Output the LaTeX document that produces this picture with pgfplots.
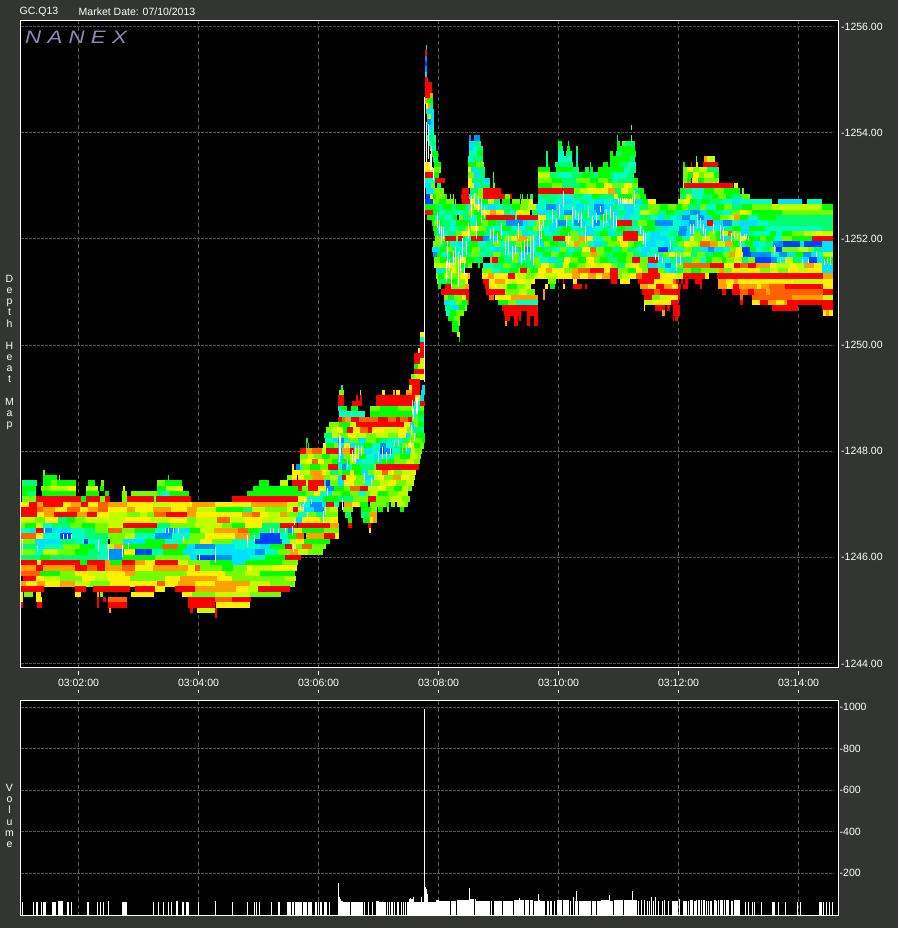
\documentclass[border=0pt]{standalone}
\usepackage{fontspec}
\setmainfont{Liberation Sans}
\usepackage{pgfplots}
\usepackage{pgfplotstable}
\pgfplotsset{compat=1.18}
\definecolor{bg}{HTML}{333533}
\definecolor{gridc}{HTML}{555555}
\definecolor{nanexc}{HTML}{8A8CB4}
\pgfplotsset{colormap={depth}{rgb255=(255,0,0) rgb255=(255,96,0) rgb255=(255,160,0) rgb255=(255,240,0) rgb255=(192,255,0) rgb255=(112,255,0) rgb255=(0,255,0) rgb255=(0,255,112) rgb255=(0,255,192) rgb255=(0,224,255) rgb255=(0,144,255) rgb255=(0,64,255)}}
\pgfdeclareplotmark{heatrun}{\pgfpathrectangle{\pgfpoint{0pt}{-2.7pt}}{\pgfpoint{\runw pt}{5.4pt}}\pgfusepathqfill}
\pgfdeclareplotmark{streak}{\pgfpathrectangle{\pgfpoint{0pt}{0pt}}{\pgfpoint{1pt}{\runh pt}}\pgfusepathqfill}
\pgfdeclareplotmark{volbar}{\pgfpathrectangle{\pgfpoint{0pt}{0pt}}{\pgfpoint{\runw pt}{-\runh pt}}\pgfusepathqfill}
\pgfplotstableread{
x y w c
43 1247.6 2 5
43 1247.5 14 6
59 1247.5 1 5
168 1247.5 1 6
287 1247.5 5 5
292 1247.5 5 3
22 1247.4 1 5
23 1247.4 14 7
43 1247.4 8 6
51 1247.4 6 5
57 1247.4 19 6
88 1247.4 7 6
101 1247.4 3 5
157 1247.4 8 5
165 1247.4 17 6
259 1247.4 10 6
280 1247.4 8 4
292 1247.4 6 0
22 1247.3 14 6
41 1247.3 9 5
50 1247.3 18 4
68 1247.3 8 3
86 1247.3 12 4
100 1247.3 4 6
123 1247.3 2 3
157 1247.3 9 6
166 1247.3 10 4
176 1247.3 7 3
253 1247.3 45 6
22 1247.2 5 6
27 1247.2 9 7
42 1247.2 34 6
86 1247.2 13 6
105 1247.2 4 6
122 1247.2 5 5
131 1247.2 26 5
157 1247.2 5 7
162 1247.2 8 8
170 1247.2 19 6
247 1247.2 51 6
22 1247.1 14 5
36 1247.1 45 0
81 1247.1 5 6
86 1247.1 14 0
100 1247.1 5 5
105 1247.1 5 0
122 1247.1 5 5
127 1247.1 27 0
154 1247.1 2 5
156 1247.1 35 0
232 1247.1 66 0
21 1247.0 8 3
29 1247.0 8 0
37 1247.0 6 2
43 1247.0 20 0
63 1247.0 8 3
71 1247.0 10 2
81 1247.0 7 0
88 1247.0 10 3
98 1247.0 10 1
108 1247.0 19 2
127 1247.0 26 3
153 1247.0 17 4
170 1247.0 22 3
192 1247.0 8 2
200 1247.0 15 2
215 1247.0 17 3
232 1247.0 19 3
251 1247.0 17 2
268 1247.0 19 2
287 1247.0 11 4
21 1246.9 16 0
37 1246.9 6 1
43 1246.9 12 2
55 1246.9 12 3
67 1246.9 13 1
80 1246.9 8 3
88 1246.9 10 2
98 1246.9 10 1
108 1246.9 19 3
127 1246.9 8 2
135 1246.9 18 3
153 1246.9 18 2
171 1246.9 16 3
187 1246.9 10 2
197 1246.9 19 4
216 1246.9 27 6
243 1246.9 9 7
252 1246.9 13 4
265 1246.9 22 5
287 1246.9 6 3
293 1246.9 5 0
21 1246.8 16 0
37 1246.8 7 3
44 1246.8 10 2
54 1246.8 23 0
77 1246.8 10 2
87 1246.8 10 0
97 1246.8 12 3
109 1246.8 18 4
127 1246.8 13 5
140 1246.8 7 4
147 1246.8 7 5
154 1246.8 12 1
166 1246.8 21 0
187 1246.8 9 2
196 1246.8 20 3
216 1246.8 16 3
232 1246.8 10 3
242 1246.8 10 2
252 1246.8 8 1
260 1246.8 8 3
268 1246.8 12 4
280 1246.8 7 2
287 1246.8 11 5
21 1246.7 14 4
35 1246.7 10 5
45 1246.7 13 3
58 1246.7 9 7
67 1246.7 8 6
75 1246.7 10 5
85 1246.7 23 4
108 1246.7 17 4
125 1246.7 25 3
150 1246.7 20 4
170 1246.7 17 3
187 1246.7 9 5
196 1246.7 21 4
217 1246.7 13 1
230 1246.7 15 4
245 1246.7 17 3
262 1246.7 18 4
280 1246.7 18 4
21 1246.6 4 5
25 1246.6 11 6
36 1246.6 7 4
43 1246.6 9 8
52 1246.6 18 7
70 1246.6 12 5
82 1246.6 13 6
95 1246.6 13 5
108 1246.6 15 4
123 1246.6 34 0
157 1246.6 13 7
170 1246.6 25 5
195 1246.6 27 4
222 1246.6 10 5
232 1246.6 13 6
245 1246.6 17 3
262 1246.6 18 7
280 1246.6 17 0
21 1246.5 9 8
30 1246.5 6 9
36 1246.5 7 0
43 1246.5 9 10
52 1246.5 18 9
70 1246.5 15 8
85 1246.5 10 7
95 1246.5 13 5
108 1246.5 14 1
122 1246.5 13 5
135 1246.5 20 6
155 1246.5 10 8
165 1246.5 10 10
175 1246.5 15 9
190 1246.5 10 6
200 1246.5 14 4
214 1246.5 24 2
238 1246.5 10 1
248 1246.5 10 6
258 1246.5 30 7
288 1246.5 4 10
292 1246.5 6 9
21 1246.4 15 1
36 1246.4 7 3
43 1246.4 17 8
60 1246.4 12 11
72 1246.4 13 8
85 1246.4 23 7
108 1246.4 17 5
125 1246.4 10 4
135 1246.4 20 8
155 1246.4 17 10
172 1246.4 18 8
190 1246.4 15 5
205 1246.4 30 3
235 1246.4 15 2
250 1246.4 10 7
260 1246.4 20 11
280 1246.4 8 8
288 1246.4 10 6
21 1246.3 14 5
35 1246.3 25 9
60 1246.3 15 7
75 1246.3 9 8
84 1246.3 4 11
88 1246.3 12 8
100 1246.3 8 7
110 1246.3 13 5
123 1246.3 22 9
145 1246.3 20 6
165 1246.3 17 8
182 1246.3 18 5
200 1246.3 12 3
212 1246.3 20 5
232 1246.3 23 8
255 1246.3 27 11
282 1246.3 8 8
290 1246.3 8 4
21 1246.2 17 7
38 1246.2 7 9
45 1246.2 18 8
63 1246.2 17 5
80 1246.2 15 6
95 1246.2 12 8
107 1246.2 7 4
114 1246.2 10 2
124 1246.2 38 6
162 1246.2 16 1
178 1246.2 9 6
187 1246.2 8 9
195 1246.2 20 10
215 1246.2 20 9
235 1246.2 25 8
260 1246.2 10 9
270 1246.2 15 6
285 1246.2 7 0
292 1246.2 6 3
21 1246.1 14 5
35 1246.1 8 8
43 1246.1 15 4
58 1246.1 17 5
75 1246.1 13 6
88 1246.1 12 7
100 1246.1 8 8
108 1246.1 16 10
124 1246.1 11 3
135 1246.1 17 11
152 1246.1 11 8
163 1246.1 20 6
183 1246.1 12 9
195 1246.1 18 8
213 1246.1 27 9
240 1246.1 15 9
255 1246.1 10 10
265 1246.1 13 8
278 1246.1 12 5
290 1246.1 8 2
21 1246.0 19 7
40 1246.0 10 6
50 1246.0 47 7
97 1246.0 11 8
108 1246.0 14 10
122 1246.0 33 6
155 1246.0 35 5
190 1246.0 7 9
197 1246.0 18 11
215 1246.0 17 10
232 1246.0 18 9
250 1246.0 15 8
265 1246.0 20 6
285 1246.0 16 0
21 1245.9 16 0
37 1245.9 4 3
41 1245.9 39 0
80 1245.9 7 6
87 1245.9 18 0
105 1245.9 5 2
110 1245.9 12 6
122 1245.9 13 0
135 1245.9 10 2
145 1245.9 10 3
155 1245.9 23 0
178 1245.9 10 4
188 1245.9 22 5
210 1245.9 22 6
232 1245.9 13 9
245 1245.9 37 6
282 1245.9 16 5
21 1245.8 15 2
36 1245.8 7 0
43 1245.8 32 2
75 1245.8 12 0
87 1245.8 10 1
97 1245.8 8 0
105 1245.8 17 2
122 1245.8 13 1
135 1245.8 18 3
153 1245.8 35 2
188 1245.8 7 3
195 1245.8 5 1
200 1245.8 22 5
222 1245.8 11 6
233 1245.8 14 5
247 1245.8 5 3
252 1245.8 20 4
272 1245.8 25 3
21 1245.7 19 1
40 1245.7 20 6
60 1245.7 15 5
75 1245.7 13 3
88 1245.7 20 4
108 1245.7 17 3
125 1245.7 10 2
135 1245.7 52 5
187 1245.7 38 3
225 1245.7 20 5
245 1245.7 15 4
260 1245.7 35 6
23 1245.6 13 0
36 1245.6 8 3
44 1245.6 16 4
60 1245.6 22 5
82 1245.6 13 3
95 1245.6 13 4
108 1245.6 22 3
130 1245.6 35 5
165 1245.6 15 3
180 1245.6 37 2
217 1245.6 15 3
232 1245.6 53 5
285 1245.6 11 4
21 1245.5 5 2
26 1245.5 11 3
37 1245.5 8 2
45 1245.5 15 3
60 1245.5 15 2
75 1245.5 15 4
90 1245.5 20 5
110 1245.5 47 3
157 1245.5 8 1
165 1245.5 13 3
178 1245.5 17 2
195 1245.5 20 3
215 1245.5 35 2
250 1245.5 20 4
270 1245.5 25 5
21 1245.4 23 0
75 1245.4 11 0
93 1245.4 37 0
135 1245.4 20 0
155 1245.4 10 3
175 1245.4 20 0
195 1245.4 41 2
236 1245.4 12 3
248 1245.4 10 4
258 1245.4 32 0
21 1245.3 2 3
24 1245.3 9 5
36 1245.3 5 3
75 1245.3 6 3
97 1245.3 2 2
100 1245.3 3 5
131 1245.3 23 3
182 1245.3 10 3
192 1245.3 23 5
215 1245.3 35 4
250 1245.3 31 5
21 1245.2 2 3
36 1245.2 6 3
97 1245.2 2 0
103 1245.2 3 0
108 1245.2 19 1
188 1245.2 27 0
215 1245.2 17 1
232 1245.2 19 0
21 1245.1 2 0
37 1245.1 5 0
97 1245.1 2 0
108 1245.1 19 0
188 1245.1 27 0
216 1245.1 34 3
109 1245.0 2 2
190 1245.0 3 0
197 1245.0 2 3
199 1245.0 16 4
215 1245.0 2 0
215 1244.9 2 0
420 1250.2 4 3
420 1250.1 4 8
420 1250.0 4 0
418 1249.9 2 3
420 1249.9 4 0
414 1249.8 10 0
414 1249.7 6 0
420 1249.7 4 4
414 1249.6 4 6
418 1249.6 3 4
421 1249.6 3 3
414 1249.5 10 0
411 1249.4 4 5
415 1249.4 5 4
420 1249.4 4 3
409 1249.3 11 0
341 1249.2 2 7
409 1249.2 3 4
412 1249.2 8 0
422 1249.2 3 9
339 1249.1 5 5
360 1249.1 1 4
382 1249.1 3 3
393 1249.1 2 2
396 1249.1 4 3
406 1249.1 6 2
412 1249.1 8 0
421 1249.1 4 9
338 1249.0 6 0
356 1249.0 2 0
360 1249.0 2 0
376 1249.0 39 0
415 1249.0 5 3
420 1249.0 4 9
338 1248.9 6 0
352 1248.9 10 0
376 1248.9 38 0
414 1248.9 6 8
420 1248.9 5 0
338 1248.8 3 9
341 1248.8 6 6
351 1248.8 7 6
370 1248.8 10 5
380 1248.8 18 6
398 1248.8 16 5
414 1248.8 6 8
420 1248.8 4 5
339 1248.7 4 8
343 1248.7 22 8
370 1248.7 8 6
378 1248.7 34 6
412 1248.7 6 8
418 1248.7 6 6
338 1248.6 4 0
342 1248.6 3 1
345 1248.6 6 2
351 1248.6 8 0
359 1248.6 11 1
370 1248.6 8 1
378 1248.6 10 0
388 1248.6 8 1
396 1248.6 4 0
400 1248.6 8 1
408 1248.6 4 0
412 1248.6 6 5
418 1248.6 6 7
329 1248.5 10 5
339 1248.5 11 6
350 1248.5 6 4
356 1248.5 14 0
370 1248.5 12 0
382 1248.5 22 0
404 1248.5 6 3
410 1248.5 4 9
414 1248.5 4 5
418 1248.5 6 6
326 1248.4 5 5
331 1248.4 6 4
337 1248.4 6 3
343 1248.4 4 6
347 1248.4 6 0
353 1248.4 7 3
360 1248.4 8 1
368 1248.4 4 0
372 1248.4 12 3
384 1248.4 15 4
399 1248.4 8 3
407 1248.4 6 5
413 1248.4 3 9
416 1248.4 8 7
324 1248.3 8 7
332 1248.3 6 4
338 1248.3 10 5
348 1248.3 8 3
356 1248.3 10 4
366 1248.3 10 5
376 1248.3 12 4
388 1248.3 10 5
398 1248.3 8 3
406 1248.3 4 9
410 1248.3 6 5
416 1248.3 9 6
306 1248.2 2 6
325 1248.2 8 8
333 1248.2 5 9
338 1248.2 6 10
344 1248.2 6 8
350 1248.2 8 5
358 1248.2 8 9
366 1248.2 10 5
376 1248.2 4 6
380 1248.2 8 7
388 1248.2 14 8
402 1248.2 6 7
408 1248.2 8 5
416 1248.2 6 5
422 1248.2 3 6
306 1248.1 1 6
308 1248.1 1 6
323 1248.1 3 3
326 1248.1 8 6
334 1248.1 4 5
338 1248.1 6 9
344 1248.1 6 3
350 1248.1 6 9
356 1248.1 8 7
364 1248.1 8 6
372 1248.1 8 8
380 1248.1 6 10
386 1248.1 8 8
394 1248.1 8 7
402 1248.1 6 5
408 1248.1 6 3
414 1248.1 6 6
420 1248.1 4 5
300 1248.0 6 0
306 1248.0 6 2
312 1248.0 10 1
322 1248.0 4 4
326 1248.0 12 0
338 1248.0 4 10
342 1248.0 8 2
350 1248.0 4 0
354 1248.0 10 5
364 1248.0 8 9
372 1248.0 8 8
380 1248.0 4 11
384 1248.0 8 10
392 1248.0 8 8
400 1248.0 6 6
406 1248.0 5 9
411 1248.0 4 4
415 1248.0 5 5
420 1248.0 2 5
300 1247.9 8 5
308 1247.9 6 4
314 1247.9 8 5
322 1247.9 8 6
330 1247.9 8 5
338 1247.9 6 9
344 1247.9 6 5
350 1247.9 8 4
358 1247.9 8 6
366 1247.9 8 8
374 1247.9 10 9
384 1247.9 10 8
394 1247.9 6 5
400 1247.9 10 6
410 1247.9 8 4
418 1247.9 3 5
300 1247.8 6 4
306 1247.8 6 3
312 1247.8 6 1
318 1247.8 6 3
324 1247.8 8 5
332 1247.8 6 6
338 1247.8 4 9
342 1247.8 8 6
350 1247.8 6 4
356 1247.8 6 9
362 1247.8 12 8
374 1247.8 8 7
382 1247.8 12 6
394 1247.8 12 5
406 1247.8 8 4
414 1247.8 6 5
292 1247.7 2 3
296 1247.7 4 10
300 1247.7 2 8
302 1247.7 8 5
310 1247.7 10 6
320 1247.7 8 5
328 1247.7 10 0
338 1247.7 4 8
342 1247.7 4 10
346 1247.7 6 8
352 1247.7 8 6
360 1247.7 14 7
374 1247.7 2 5
376 1247.7 43 0
292 1247.6 8 3
300 1247.6 10 4
310 1247.6 12 2
322 1247.6 4 3
326 1247.6 4 4
330 1247.6 8 7
338 1247.6 4 5
342 1247.6 8 6
350 1247.6 4 3
354 1247.6 8 6
362 1247.6 6 9
368 1247.6 6 5
374 1247.6 8 4
382 1247.6 6 1
388 1247.6 6 3
394 1247.6 8 5
402 1247.6 10 4
412 1247.6 4 3
298 1247.5 6 3
304 1247.5 8 5
312 1247.5 12 2
324 1247.5 6 5
330 1247.5 8 4
338 1247.5 4 9
342 1247.5 4 0
346 1247.5 10 3
356 1247.5 8 5
364 1247.5 10 9
374 1247.5 4 4
378 1247.5 6 3
384 1247.5 9 5
393 1247.5 8 2
401 1247.5 8 3
409 1247.5 6 4
298 1247.4 8 0
306 1247.4 2 4
308 1247.4 16 0
324 1247.4 2 9
326 1247.4 4 11
330 1247.4 8 5
338 1247.4 6 9
344 1247.4 10 3
354 1247.4 10 5
364 1247.4 8 8
372 1247.4 8 5
380 1247.4 8 4
388 1247.4 8 3
396 1247.4 10 5
406 1247.4 8 4
298 1247.3 4 0
302 1247.3 6 5
308 1247.3 10 0
318 1247.3 8 3
326 1247.3 8 10
334 1247.3 4 6
338 1247.3 6 6
344 1247.3 6 5
350 1247.3 10 1
360 1247.3 8 0
368 1247.3 10 4
378 1247.3 8 3
386 1247.3 8 5
394 1247.3 8 6
402 1247.3 6 4
408 1247.3 4 5
298 1247.2 8 6
306 1247.2 8 5
314 1247.2 6 3
320 1247.2 8 8
328 1247.2 4 9
332 1247.2 10 5
342 1247.2 8 6
350 1247.2 8 5
358 1247.2 8 8
366 1247.2 4 5
370 1247.2 8 4
378 1247.2 10 6
388 1247.2 10 5
398 1247.2 10 4
298 1247.1 9 3
307 1247.1 16 8
323 1247.1 15 6
338 1247.1 15 7
353 1247.1 15 5
368 1247.1 8 0
376 1247.1 14 5
390 1247.1 12 4
402 1247.1 8 5
298 1247.0 2 5
300 1247.0 10 8
310 1247.0 12 10
322 1247.0 4 9
326 1247.0 8 0
334 1247.0 5 8
344 1247.0 8 2
352 1247.0 8 3
360 1247.0 8 6
370 1247.0 8 5
378 1247.0 8 5
386 1247.0 3 6
391 1247.0 4 5
397 1247.0 8 4
405 1247.0 3 5
298 1246.9 6 4
304 1246.9 10 9
314 1246.9 10 10
324 1246.9 6 5
330 1246.9 8 4
343 1246.9 10 5
361 1246.9 10 6
371 1246.9 6 5
378 1246.9 5 6
387 1246.9 2 5
400 1246.9 4 6
298 1246.8 8 8
306 1246.8 10 5
316 1246.8 10 7
326 1246.8 12 5
345 1246.8 6 7
361 1246.8 8 7
369 1246.8 8 2
296 1246.7 6 9
302 1246.7 18 3
320 1246.7 4 5
324 1246.7 6 4
330 1246.7 8 3
348 1246.7 4 6
363 1246.7 7 6
370 1246.7 3 3
373 1246.7 4 2
298 1246.6 32 0
330 1246.6 9 2
348 1246.6 4 0
368 1246.6 3 0
294 1246.5 8 4
302 1246.5 22 6
324 1246.5 15 5
369 1246.5 2 3
296 1246.4 8 1
306 1246.4 18 2
324 1246.4 11 0
335 1246.4 4 3
296 1246.3 8 3
304 1246.3 26 6
296 1246.2 8 5
302 1246.2 10 1
312 1246.2 14 5
298 1246.1 10 4
308 1246.1 15 5
426 1255.6 1 9
425 1255.5 2 0
425 1255.4 2 10
425 1255.3 2 11
425 1255.2 2 10
425 1255.1 2 9
425 1255.0 3 0
425 1254.9 3 0
428 1254.9 2 0
430 1254.9 2 0
425 1254.8 7 0
425 1254.7 5 0
430 1254.7 3 2
425 1254.6 2 2
427 1254.6 6 6
426 1254.5 2 3
428 1254.5 2 2
430 1254.5 3 7
426 1254.4 8 9
427 1254.3 2 5
429 1254.3 2 4
431 1254.3 3 9
427 1254.2 4 10
431 1254.2 3 9
631 1254.1 1 5
427 1254.1 2 11
429 1254.1 3 9
432 1254.1 2 8
428 1254.0 6 8
617 1253.9 1 6
631 1253.9 1 5
427 1253.9 8 7
434 1253.9 2 8
469 1253.9 2 10
474 1253.9 6 10
428 1253.8 4 8
432 1253.8 4 7
469 1253.8 6 9
475 1253.8 6 7
558 1253.8 4 6
568 1253.8 1 6
617 1253.8 3 6
622 1253.8 3 5
625 1253.8 10 7
430 1253.7 2 5
432 1253.7 4 8
469 1253.7 4 9
473 1253.7 4 8
477 1253.7 6 7
558 1253.7 5 7
567 1253.7 3 6
576 1253.7 2 7
617 1253.7 18 6
432 1253.6 6 6
469 1253.6 8 8
477 1253.6 6 6
546 1253.6 2 7
558 1253.6 6 8
566 1253.6 6 7
576 1253.6 2 7
610 1253.6 3 6
616 1253.6 6 7
622 1253.6 14 6
433 1253.5 4 7
437 1253.5 1 6
468 1253.5 5 8
473 1253.5 10 7
546 1253.5 2 7
558 1253.5 14 8
576 1253.5 2 9
610 1253.5 20 6
630 1253.5 5 7
696 1253.5 1 5
704 1253.5 3 2
707 1253.5 4 4
711 1253.5 4 4
425 1253.4 6 3
434 1253.4 7 6
468 1253.4 8 6
476 1253.4 8 5
546 1253.4 2 7
555 1253.4 18 7
576 1253.4 2 7
590 1253.4 1 6
603 1253.4 5 6
610 1253.4 10 6
620 1253.4 8 7
628 1253.4 8 8
683 1253.4 2 6
691 1253.4 1 0
696 1253.4 2 3
703 1253.4 15 0
425 1253.3 8 3
434 1253.3 7 5
468 1253.3 3 3
471 1253.3 6 9
477 1253.3 8 7
538 1253.3 12 6
556 1253.3 17 6
573 1253.3 6 7
585 1253.3 4 7
590 1253.3 3 6
598 1253.3 10 6
608 1253.3 6 6
614 1253.3 10 6
624 1253.3 6 8
630 1253.3 6 7
683 1253.3 4 5
687 1253.3 6 3
693 1253.3 6 5
699 1253.3 8 4
707 1253.3 11 7
718 1253.3 1 2
425 1253.2 8 0
433 1253.2 6 6
468 1253.2 6 5
474 1253.2 6 9
480 1253.2 4 7
484 1253.2 1 6
493 1253.2 1 5
538 1253.2 12 4
550 1253.2 8 7
558 1253.2 14 8
572 1253.2 10 7
582 1253.2 8 6
590 1253.2 8 7
598 1253.2 12 6
610 1253.2 4 7
614 1253.2 14 8
628 1253.2 6 7
683 1253.2 5 5
688 1253.2 5 6
693 1253.2 6 3
699 1253.2 5 5
704 1253.2 10 4
714 1253.2 5 6
425 1253.1 10 8
435 1253.1 10 0
468 1253.1 4 3
472 1253.1 10 7
482 1253.1 8 9
493 1253.1 1 6
538 1253.1 14 5
552 1253.1 10 6
562 1253.1 14 7
576 1253.1 6 5
582 1253.1 8 5
590 1253.1 8 6
598 1253.1 10 5
608 1253.1 4 6
612 1253.1 6 8
618 1253.1 16 7
634 1253.1 4 6
683 1253.1 4 5
687 1253.1 4 6
692 1253.1 6 3
698 1253.1 6 6
704 1253.1 8 5
712 1253.1 6 5
718 1253.1 1 4
425 1253.0 6 9
431 1253.0 4 5
437 1253.0 4 7
468 1253.0 6 3
474 1253.0 6 9
480 1253.0 10 7
493 1253.0 2 5
538 1253.0 14 6
552 1253.0 10 5
562 1253.0 18 7
580 1253.0 6 6
586 1253.0 10 5
596 1253.0 8 6
604 1253.0 8 3
612 1253.0 12 5
624 1253.0 8 3
632 1253.0 6 5
683 1253.0 1 4
684 1253.0 49 0
734 1253.0 4 3
426 1252.9 8 9
434 1252.9 2 5
436 1252.9 8 5
462 1252.9 7 0
470 1252.9 8 7
478 1252.9 5 5
483 1252.9 18 0
538 1252.9 36 0
574 1252.9 6 5
580 1252.9 8 4
588 1252.9 20 3
608 1252.9 7 2
615 1252.9 6 7
621 1252.9 7 3
628 1252.9 6 5
634 1252.9 6 7
640 1252.9 4 6
680 1252.9 4 6
684 1252.9 8 7
692 1252.9 12 8
704 1252.9 10 6
714 1252.9 10 5
724 1252.9 8 6
732 1252.9 8 6
742 1252.9 2 5
426 1252.8 4 11
430 1252.8 3 3
433 1252.8 3 6
436 1252.8 9 5
445 1252.8 2 6
450 1252.8 1 5
453 1252.8 1 5
461 1252.8 8 0
469 1252.8 4 8
473 1252.8 10 5
483 1252.8 22 0
505 1252.8 5 5
510 1252.8 2 0
520 1252.8 1 6
522 1252.8 1 5
527 1252.8 1 6
530 1252.8 3 7
538 1252.8 20 7
558 1252.8 16 8
574 1252.8 8 7
582 1252.8 10 8
592 1252.8 8 6
600 1252.8 14 7
614 1252.8 4 3
618 1252.8 14 6
632 1252.8 8 5
640 1252.8 6 6
680 1252.8 6 7
686 1252.8 6 4
692 1252.8 10 8
702 1252.8 10 7
712 1252.8 6 6
718 1252.8 8 5
726 1252.8 6 6
732 1252.8 10 7
742 1252.8 8 5
425 1252.7 8 11
433 1252.7 6 5
439 1252.7 7 6
446 1252.7 8 5
455 1252.7 1 5
462 1252.7 8 0
470 1252.7 4 3
474 1252.7 6 8
480 1252.7 8 6
488 1252.7 6 4
494 1252.7 6 7
502 1252.7 8 6
512 1252.7 8 5
521 1252.7 8 5
529 1252.7 4 3
538 1252.7 8 8
546 1252.7 8 7
554 1252.7 8 8
562 1252.7 10 9
572 1252.7 8 8
580 1252.7 8 7
588 1252.7 6 8
594 1252.7 10 9
604 1252.7 8 8
612 1252.7 10 9
622 1252.7 10 3
632 1252.7 4 6
636 1252.7 6 9
642 1252.7 6 6
648 1252.7 8 3
678 1252.7 6 4
684 1252.7 6 3
690 1252.7 6 6
696 1252.7 6 7
702 1252.7 8 6
710 1252.7 12 7
722 1252.7 10 8
732 1252.7 8 9
740 1252.7 12 8
752 1252.7 20 8
778 1252.7 24 9
807 1252.7 15 8
425 1252.6 7 6
432 1252.6 3 6
435 1252.6 8 7
443 1252.6 9 6
452 1252.6 4 7
456 1252.6 10 6
466 1252.6 3 9
469 1252.6 5 5
474 1252.6 6 3
480 1252.6 8 8
488 1252.6 8 9
496 1252.6 6 8
502 1252.6 10 7
512 1252.6 8 6
520 1252.6 8 5
528 1252.6 8 4
536 1252.6 10 8
546 1252.6 10 10
556 1252.6 6 9
562 1252.6 14 8
576 1252.6 8 9
584 1252.6 10 8
594 1252.6 10 10
604 1252.6 8 9
612 1252.6 6 7
618 1252.6 6 8
624 1252.6 10 9
634 1252.6 6 8
640 1252.6 8 7
648 1252.6 12 5
660 1252.6 8 6
668 1252.6 8 5
676 1252.6 6 6
682 1252.6 6 5
688 1252.6 12 7
700 1252.6 6 5
706 1252.6 10 8
716 1252.6 8 6
724 1252.6 8 5
732 1252.6 10 7
742 1252.6 10 6
752 1252.6 20 5
772 1252.6 50 4
822 1252.6 11 6
425 1252.5 8 0
433 1252.5 6 6
439 1252.5 6 8
445 1252.5 10 7
455 1252.5 8 8
463 1252.5 5 7
468 1252.5 6 5
474 1252.5 8 6
482 1252.5 8 3
490 1252.5 6 2
496 1252.5 8 3
504 1252.5 6 7
510 1252.5 6 8
516 1252.5 8 3
524 1252.5 6 4
532 1252.5 6 7
538 1252.5 10 9
548 1252.5 8 7
556 1252.5 8 9
564 1252.5 8 10
572 1252.5 8 8
580 1252.5 10 7
590 1252.5 6 9
596 1252.5 8 10
604 1252.5 6 8
610 1252.5 8 9
618 1252.5 8 7
626 1252.5 8 9
634 1252.5 6 8
640 1252.5 10 4
650 1252.5 8 5
658 1252.5 8 7
666 1252.5 8 6
674 1252.5 10 7
684 1252.5 6 9
690 1252.5 10 10
700 1252.5 6 9
706 1252.5 8 6
714 1252.5 8 7
722 1252.5 10 8
732 1252.5 8 5
740 1252.5 6 3
746 1252.5 6 4
752 1252.5 30 6
782 1252.5 41 5
823 1252.5 10 5
427 1252.4 8 6
435 1252.4 2 8
437 1252.4 8 7
445 1252.4 8 8
453 1252.4 4 6
459 1252.4 4 5
463 1252.4 8 7
471 1252.4 6 8
477 1252.4 9 6
486 1252.4 29 0
515 1252.4 2 8
517 1252.4 21 0
538 1252.4 8 3
546 1252.4 10 8
556 1252.4 8 7
564 1252.4 8 5
572 1252.4 10 8
582 1252.4 8 7
590 1252.4 10 8
600 1252.4 8 6
608 1252.4 6 7
614 1252.4 10 8
624 1252.4 6 9
630 1252.4 10 8
640 1252.4 10 7
650 1252.4 8 8
658 1252.4 6 9
664 1252.4 6 7
670 1252.4 6 8
676 1252.4 6 9
682 1252.4 8 10
690 1252.4 8 8
698 1252.4 6 10
704 1252.4 8 9
712 1252.4 8 6
720 1252.4 8 5
728 1252.4 6 4
734 1252.4 6 2
740 1252.4 8 6
748 1252.4 10 8
758 1252.4 6 6
764 1252.4 12 6
776 1252.4 47 7
823 1252.4 10 7
432 1252.3 2 6
434 1252.3 3 5
437 1252.3 5 6
442 1252.3 8 7
450 1252.3 6 8
456 1252.3 6 6
462 1252.3 8 6
470 1252.3 6 8
476 1252.3 6 6
482 1252.3 6 5
488 1252.3 8 6
496 1252.3 10 7
506 1252.3 17 10
523 1252.3 5 9
528 1252.3 8 8
536 1252.3 8 5
544 1252.3 8 7
552 1252.3 6 9
558 1252.3 8 10
566 1252.3 8 8
574 1252.3 6 10
580 1252.3 6 9
586 1252.3 8 8
594 1252.3 6 10
600 1252.3 8 8
608 1252.3 9 9
617 1252.3 15 0
632 1252.3 6 7
638 1252.3 9 5
647 1252.3 8 6
655 1252.3 18 10
673 1252.3 8 8
681 1252.3 8 9
689 1252.3 6 10
695 1252.3 8 9
703 1252.3 4 9
707 1252.3 6 0
713 1252.3 10 9
723 1252.3 9 10
732 1252.3 8 8
740 1252.3 10 9
750 1252.3 8 9
758 1252.3 10 8
768 1252.3 4 7
772 1252.3 51 7
823 1252.3 10 7
433 1252.2 4 6
437 1252.2 6 8
443 1252.2 6 7
449 1252.2 8 8
457 1252.2 8 7
465 1252.2 6 5
471 1252.2 8 3
479 1252.2 6 5
485 1252.2 6 7
491 1252.2 10 8
501 1252.2 10 6
511 1252.2 14 8
525 1252.2 8 7
533 1252.2 8 5
541 1252.2 8 8
549 1252.2 8 9
557 1252.2 6 7
563 1252.2 8 6
571 1252.2 8 8
579 1252.2 8 7
587 1252.2 8 9
595 1252.2 8 8
603 1252.2 8 7
611 1252.2 6 8
617 1252.2 8 6
625 1252.2 8 7
633 1252.2 10 8
643 1252.2 12 6
655 1252.2 6 7
661 1252.2 8 9
669 1252.2 10 8
679 1252.2 8 10
687 1252.2 8 9
695 1252.2 8 8
703 1252.2 8 9
711 1252.2 8 8
719 1252.2 6 9
725 1252.2 8 7
733 1252.2 8 6
741 1252.2 8 9
749 1252.2 8 6
757 1252.2 8 6
765 1252.2 6 8
771 1252.2 52 8
823 1252.2 10 7
434 1252.1 3 6
437 1252.1 5 9
442 1252.1 6 8
448 1252.1 8 7
456 1252.1 6 5
462 1252.1 8 3
470 1252.1 6 5
476 1252.1 8 6
484 1252.1 8 7
492 1252.1 8 6
500 1252.1 8 8
508 1252.1 8 7
516 1252.1 6 5
522 1252.1 6 9
528 1252.1 10 8
538 1252.1 6 6
544 1252.1 8 8
552 1252.1 8 7
560 1252.1 10 6
570 1252.1 8 5
578 1252.1 8 8
586 1252.1 8 9
594 1252.1 6 7
600 1252.1 8 6
608 1252.1 6 9
614 1252.1 9 7
623 1252.1 15 0
638 1252.1 4 7
642 1252.1 8 8
650 1252.1 10 9
660 1252.1 10 8
670 1252.1 8 7
678 1252.1 8 10
686 1252.1 8 9
694 1252.1 6 5
700 1252.1 8 7
708 1252.1 8 5
716 1252.1 6 6
722 1252.1 6 4
728 1252.1 4 1
732 1252.1 8 5
740 1252.1 8 9
748 1252.1 6 7
754 1252.1 6 8
760 1252.1 10 8
770 1252.1 6 6
776 1252.1 6 8
782 1252.1 10 6
792 1252.1 12 5
804 1252.1 12 4
816 1252.1 7 3
823 1252.1 10 4
435 1252.0 10 5
445 1252.0 11 0
456 1252.0 2 5
458 1252.0 5 0
463 1252.0 2 6
465 1252.0 6 8
471 1252.0 12 0
483 1252.0 6 10
489 1252.0 8 9
497 1252.0 6 6
503 1252.0 8 5
511 1252.0 6 3
517 1252.0 10 2
527 1252.0 8 5
535 1252.0 6 9
541 1252.0 8 6
549 1252.0 4 7
553 1252.0 12 0
565 1252.0 6 3
571 1252.0 8 5
579 1252.0 8 2
587 1252.0 6 3
593 1252.0 10 8
603 1252.0 8 5
611 1252.0 6 6
617 1252.0 6 3
623 1252.0 15 0
638 1252.0 6 3
644 1252.0 6 8
650 1252.0 4 9
654 1252.0 14 9
668 1252.0 8 8
676 1252.0 6 6
682 1252.0 8 8
690 1252.0 4 3
694 1252.0 8 5
702 1252.0 8 4
710 1252.0 6 5
716 1252.0 4 6
720 1252.0 8 9
728 1252.0 6 7
734 1252.0 6 5
740 1252.0 6 3
746 1252.0 8 6
754 1252.0 6 6
760 1252.0 6 5
766 1252.0 8 6
774 1252.0 8 8
782 1252.0 10 5
792 1252.0 10 6
802 1252.0 10 6
812 1252.0 21 0
433 1251.9 8 5
441 1251.9 4 7
445 1251.9 5 6
450 1251.9 8 8
458 1251.9 6 9
464 1251.9 6 7
470 1251.9 8 6
478 1251.9 8 8
486 1251.9 8 7
494 1251.9 6 5
500 1251.9 8 8
508 1251.9 8 7
516 1251.9 6 5
522 1251.9 8 6
530 1251.9 6 8
536 1251.9 8 9
544 1251.9 6 5
550 1251.9 8 6
558 1251.9 8 7
566 1251.9 8 4
574 1251.9 6 2
580 1251.9 8 5
588 1251.9 6 8
594 1251.9 8 9
602 1251.9 6 7
608 1251.9 12 5
620 1251.9 8 3
628 1251.9 6 5
634 1251.9 4 6
638 1251.9 6 7
644 1251.9 12 9
656 1251.9 8 8
664 1251.9 6 9
670 1251.9 8 7
678 1251.9 6 5
684 1251.9 6 3
690 1251.9 8 4
698 1251.9 2 5
700 1251.9 10 1
710 1251.9 8 2
718 1251.9 7 4
725 1251.9 8 2
733 1251.9 6 6
739 1251.9 6 8
745 1251.9 8 6
753 1251.9 6 9
759 1251.9 6 8
765 1251.9 8 7
773 1251.9 10 10
783 1251.9 17 11
800 1251.9 4 9
804 1251.9 18 11
822 1251.9 11 9
432 1251.8 8 9
440 1251.8 6 6
446 1251.8 6 5
452 1251.8 6 7
458 1251.8 8 8
466 1251.8 6 6
472 1251.8 8 5
480 1251.8 6 7
486 1251.8 6 8
492 1251.8 8 9
500 1251.8 8 7
508 1251.8 10 9
518 1251.8 6 6
524 1251.8 6 10
530 1251.8 6 8
536 1251.8 8 6
544 1251.8 8 7
552 1251.8 8 8
560 1251.8 6 5
566 1251.8 8 8
574 1251.8 8 7
582 1251.8 8 3
590 1251.8 6 1
596 1251.8 8 5
604 1251.8 8 6
612 1251.8 10 7
622 1251.8 6 5
628 1251.8 8 7
636 1251.8 6 8
642 1251.8 8 9
650 1251.8 8 8
658 1251.8 10 11
668 1251.8 6 9
674 1251.8 10 8
684 1251.8 8 5
692 1251.8 8 7
700 1251.8 8 9
708 1251.8 6 10
714 1251.8 10 9
724 1251.8 6 8
730 1251.8 6 5
736 1251.8 6 3
742 1251.8 8 11
750 1251.8 6 6
756 1251.8 6 8
762 1251.8 8 7
770 1251.8 6 5
776 1251.8 6 11
782 1251.8 16 5
798 1251.8 10 4
808 1251.8 6 5
814 1251.8 8 7
822 1251.8 11 9
433 1251.7 4 10
437 1251.7 4 6
441 1251.7 8 8
449 1251.7 6 6
455 1251.7 8 8
463 1251.7 8 7
471 1251.7 8 5
479 1251.7 6 8
485 1251.7 8 7
493 1251.7 8 5
501 1251.7 6 7
507 1251.7 6 8
513 1251.7 6 5
519 1251.7 8 9
527 1251.7 8 7
535 1251.7 8 8
543 1251.7 8 6
551 1251.7 8 5
559 1251.7 6 6
565 1251.7 8 7
573 1251.7 8 6
581 1251.7 10 5
591 1251.7 6 2
597 1251.7 8 5
605 1251.7 8 7
613 1251.7 8 6
621 1251.7 6 6
627 1251.7 6 5
633 1251.7 8 7
641 1251.7 6 9
647 1251.7 10 8
657 1251.7 6 7
663 1251.7 6 5
669 1251.7 6 3
675 1251.7 8 5
683 1251.7 8 4
691 1251.7 6 7
697 1251.7 8 5
705 1251.7 8 7
713 1251.7 10 6
723 1251.7 6 5
729 1251.7 6 2
735 1251.7 8 3
743 1251.7 8 11
751 1251.7 20 10
771 1251.7 8 8
779 1251.7 8 10
787 1251.7 8 9
795 1251.7 8 6
803 1251.7 8 10
811 1251.7 6 9
817 1251.7 6 8
823 1251.7 10 4
434 1251.6 6 5
440 1251.6 8 6
448 1251.6 6 7
454 1251.6 6 5
460 1251.6 6 3
466 1251.6 8 6
474 1251.6 6 7
480 1251.6 3 6
490 1251.6 2 2
492 1251.6 6 0
498 1251.6 6 6
504 1251.6 8 7
512 1251.6 6 5
518 1251.6 8 8
526 1251.6 8 7
534 1251.6 6 5
540 1251.6 8 8
548 1251.6 8 9
556 1251.6 8 7
564 1251.6 6 3
570 1251.6 8 5
578 1251.6 8 6
586 1251.6 8 3
594 1251.6 6 5
600 1251.6 8 6
608 1251.6 10 7
618 1251.6 8 6
626 1251.6 6 5
632 1251.6 8 0
640 1251.6 8 5
648 1251.6 10 0
658 1251.6 6 9
664 1251.6 6 8
670 1251.6 6 7
676 1251.6 6 9
682 1251.6 10 7
692 1251.6 8 5
700 1251.6 6 8
706 1251.6 6 6
712 1251.6 10 5
722 1251.6 4 6
726 1251.6 8 5
734 1251.6 8 4
742 1251.6 6 7
748 1251.6 7 5
755 1251.6 16 11
771 1251.6 6 10
777 1251.6 8 8
785 1251.6 8 4
793 1251.6 8 7
801 1251.6 8 9
809 1251.6 8 11
817 1251.6 6 9
823 1251.6 10 6
434 1251.5 12 4
446 1251.5 6 3
452 1251.5 4 4
456 1251.5 4 5
460 1251.5 8 6
468 1251.5 4 5
478 1251.5 2 6
483 1251.5 10 8
493 1251.5 10 7
503 1251.5 8 5
511 1251.5 6 7
517 1251.5 10 6
527 1251.5 8 7
535 1251.5 6 5
541 1251.5 8 3
549 1251.5 6 5
555 1251.5 8 7
563 1251.5 6 3
569 1251.5 8 6
577 1251.5 8 5
585 1251.5 6 4
591 1251.5 4 3
595 1251.5 8 4
603 1251.5 8 3
611 1251.5 6 5
617 1251.5 8 7
625 1251.5 8 4
633 1251.5 6 3
639 1251.5 8 5
647 1251.5 10 9
657 1251.5 8 8
665 1251.5 6 10
671 1251.5 6 8
677 1251.5 6 5
683 1251.5 27 1
710 1251.5 14 0
724 1251.5 10 3
734 1251.5 6 0
740 1251.5 8 1
748 1251.5 8 0
756 1251.5 14 2
770 1251.5 6 3
776 1251.5 14 4
790 1251.5 6 3
796 1251.5 8 4
804 1251.5 10 2
814 1251.5 8 3
822 1251.5 11 9
436 1251.4 6 9
442 1251.4 4 7
446 1251.4 6 5
452 1251.4 4 3
456 1251.4 6 5
462 1251.4 2 7
482 1251.4 10 5
492 1251.4 8 8
500 1251.4 10 7
510 1251.4 8 6
518 1251.4 2 5
520 1251.4 7 0
527 1251.4 4 5
531 1251.4 7 6
538 1251.4 8 3
546 1251.4 6 2
552 1251.4 6 3
558 1251.4 6 3
564 1251.4 8 5
572 1251.4 6 2
578 1251.4 12 1
590 1251.4 14 0
604 1251.4 6 3
610 1251.4 8 0
618 1251.4 2 5
620 1251.4 8 5
628 1251.4 8 6
636 1251.4 6 3
642 1251.4 6 5
648 1251.4 10 0
658 1251.4 6 5
664 1251.4 6 8
670 1251.4 6 9
676 1251.4 7 7
683 1251.4 8 5
691 1251.4 10 6
701 1251.4 8 5
709 1251.4 10 5
719 1251.4 5 2
724 1251.4 8 5
732 1251.4 8 3
740 1251.4 8 4
748 1251.4 12 3
760 1251.4 10 5
770 1251.4 8 4
778 1251.4 10 5
788 1251.4 10 3
798 1251.4 10 4
808 1251.4 14 3
822 1251.4 11 9
436 1251.3 2 5
438 1251.3 6 6
444 1251.3 4 4
448 1251.3 12 5
460 1251.3 8 3
468 1251.3 2 2
482 1251.3 6 3
488 1251.3 6 2
494 1251.3 14 3
508 1251.3 7 0
515 1251.3 3 3
518 1251.3 8 4
526 1251.3 8 5
534 1251.3 4 4
538 1251.3 6 3
544 1251.3 14 4
558 1251.3 14 3
572 1251.3 8 2
580 1251.3 8 3
588 1251.3 8 2
596 1251.3 6 3
602 1251.3 8 2
610 1251.3 8 0
618 1251.3 4 5
622 1251.3 8 4
630 1251.3 6 3
636 1251.3 6 1
642 1251.3 8 0
650 1251.3 10 0
660 1251.3 6 3
666 1251.3 10 3
676 1251.3 6 4
682 1251.3 1 3
683 1251.3 22 0
705 1251.3 4 3
717 1251.3 106 0
823 1251.3 10 2
437 1251.2 2 5
439 1251.2 8 7
447 1251.2 10 6
457 1251.2 8 5
465 1251.2 3 3
483 1251.2 6 0
489 1251.2 6 3
495 1251.2 10 2
505 1251.2 4 3
509 1251.2 8 4
517 1251.2 8 3
525 1251.2 6 4
531 1251.2 4 3
548 1251.2 8 5
563 1251.2 1 0
573 1251.2 4 3
611 1251.2 6 0
620 1251.2 10 3
638 1251.2 16 0
654 1251.2 4 3
658 1251.2 15 3
673 1251.2 3 1
676 1251.2 2 0
681 1251.2 2 0
685 1251.2 3 0
695 1251.2 7 0
718 1251.2 8 2
726 1251.2 8 3
734 1251.2 4 2
738 1251.2 47 3
785 1251.2 8 3
793 1251.2 20 4
813 1251.2 10 4
823 1251.2 10 3
438 1251.1 3 6
445 1251.1 6 0
451 1251.1 14 5
465 1251.1 4 2
485 1251.1 4 0
489 1251.1 8 3
497 1251.1 10 4
507 1251.1 10 6
517 1251.1 8 5
525 1251.1 6 4
545 1251.1 3 3
550 1251.1 5 6
563 1251.1 2 3
573 1251.1 3 0
576 1251.1 6 0
585 1251.1 2 0
640 1251.1 8 2
648 1251.1 8 3
656 1251.1 8 0
664 1251.1 8 2
672 1251.1 6 3
678 1251.1 3 0
683 1251.1 5 0
700 1251.1 2 0
718 1251.1 9 2
727 1251.1 6 3
733 1251.1 6 0
739 1251.1 18 2
757 1251.1 4 3
761 1251.1 8 2
769 1251.1 16 1
785 1251.1 38 0
823 1251.1 10 3
441 1251.0 28 0
486 1251.0 19 0
505 1251.0 14 5
519 1251.0 8 4
527 1251.0 8 5
543 1251.0 2 2
642 1251.0 12 0
654 1251.0 6 1
660 1251.0 6 0
666 1251.0 14 0
722 1251.0 4 0
732 1251.0 8 0
740 1251.0 8 1
748 1251.0 6 0
754 1251.0 12 1
766 1251.0 4 2
770 1251.0 30 1
800 1251.0 23 1
823 1251.0 10 0
444 1250.9 4 5
448 1250.9 6 6
454 1250.9 8 5
462 1250.9 4 3
466 1250.9 3 0
489 1250.9 5 1
495 1250.9 4 3
499 1250.9 12 3
511 1250.9 27 2
543 1250.9 2 2
644 1250.9 8 0
652 1250.9 8 5
660 1250.9 10 4
670 1250.9 8 3
678 1250.9 2 0
740 1250.9 3 1
752 1250.9 40 1
792 1250.9 31 2
823 1250.9 10 4
444 1250.8 6 9
450 1250.8 6 8
456 1250.8 6 5
462 1250.8 6 6
468 1250.8 1 0
498 1250.8 10 6
508 1250.8 8 5
516 1250.8 22 8
644 1250.8 9 4
653 1250.8 8 3
661 1250.8 10 3
671 1250.8 7 0
740 1250.8 3 0
752 1250.8 8 3
760 1250.8 8 0
768 1250.8 8 2
776 1250.8 8 3
784 1250.8 3 2
787 1250.8 36 0
823 1250.8 10 0
445 1250.7 6 7
451 1250.7 8 9
459 1250.7 6 6
465 1250.7 2 5
502 1250.7 8 0
510 1250.7 28 0
644 1250.7 1 3
655 1250.7 10 0
667 1250.7 3 0
673 1250.7 7 0
772 1250.7 26 0
822 1250.7 11 0
446 1250.6 4 8
450 1250.6 6 6
456 1250.6 8 5
504 1250.6 6 0
510 1250.6 11 0
527 1250.6 11 0
662 1250.6 3 2
673 1250.6 7 0
823 1250.6 3 3
826 1250.6 3 2
829 1250.6 4 3
448 1250.5 6 6
454 1250.5 6 5
505 1250.5 5 0
514 1250.5 4 0
519 1250.5 2 0
527 1250.5 3 0
534 1250.5 4 0
673 1250.5 1 0
675 1250.5 3 0
452 1250.4 6 6
458 1250.4 2 5
505 1250.4 2 2
514 1250.4 4 0
527 1250.4 3 0
534 1250.4 4 0
452 1250.3 7 6
457 1250.2 3 4
459 1250.1 1 6
}\heatruns
\pgfplotstableread{
x y h
22 1246.05 16
37 1246.1 6
44 1246.45 5
63 1246.35 5
67 1246.35 5
71 1246.35 5
98 1246.1 12
108 1245.95 16
122 1246.0 12
128 1246.15 6
165 1246.45 5
168 1246.45 5
173 1246.45 5
178 1246.45 5
183 1246.3 5
199 1245.95 6
215 1245.9 16
247 1246.2 12
254 1246.3 6
270 1246.45 5
273 1246.45 5
278 1246.45 5
285 1246.45 5
293 1246.1 8
300 1246.9 6
303 1246.9 6
307 1246.75 6
292 1246.4 10
294 1246.6 6
304 1247 5
311 1247 5
323 1246.65 12
325 1246.8 8
327 1247.15 8
339 1247.8 27
340 1247.9 20
342 1246.9 12
347 1247.7 8
352 1247.8 12
355 1247.8 16
358 1247.85 14
361 1247.9 10
364 1247.4 10
371 1247.3 10
378 1247.8 10
382 1247.85 12
386 1247.8 10
390 1247.9 8
394 1248.1 6
398 1248.1 6
402 1247.95 6
406 1248.0 6
410 1248.1 6
411 1248.3 10
412 1248.7 14
413 1248.6 10
414 1248.2 8
416 1248.7 16
417 1248.7 16
424 1249.3 285
426 1253.45 40
428 1253.5 35
430 1253.3 16
431 1253.3 24
433 1253.1 12
437 1252.2 16
439 1252.1 14
441 1251.9 18
443 1252.0 12
446 1251.2 20
447 1251.5 24
449 1251.4 12
451 1251.1 16
453 1251.5 14
455 1251.5 18
458 1251.1 35
460 1251.4 16
462 1251.6 22
464 1251.3 14
466 1251.7 14
468 1252.0 16
471 1252.4 22
474 1252.6 14
476 1252.0 18
478 1252.5 16
481 1252.3 24
484 1252.4 12
490 1252 10
493 1251.9 16
497 1251.9 12
501 1252 16
505 1251.7 14
508 1251.7 20
512 1251.6 14
515 1251.7 10
518 1252 16
521 1251.5 20
524 1251.6 20
527 1251.7 16
530 1251.6 24
533 1251.5 30
539 1251.85 30
541 1252.0 14
543 1252.2 8
552 1252.3 14
556 1252.2 10
559 1252.4 14
563 1252.6 16
566 1252.2 12
568 1251.9 12
572 1252.3 16
575 1252.4 8
578 1252.3 10
581 1252.2 16
585 1251.9 18
588 1252.4 12
592 1252.2 12
596 1252.3 10
600 1252.5 6
603 1252.2 14
606 1252.3 14
610 1252.4 12
613 1252.2 16
616 1252.2 12
618 1252.65 6
620 1252.65 6
622 1252.65 6
624 1252.65 6
626 1252.65 6
630 1252.65 6
632 1252.65 6
634 1252.6 16
640 1252.1 8
643 1251.9 14
645 1251.85 14
655 1251.6 6
658 1251.6 6
662 1251.55 6
670 1251.8 8
676 1251.4 18
680 1251.5 12
690 1252.1 10
693 1252.1 10
697 1252.2 14
700 1252.2 10
703 1252.1 10
705 1252 10
713 1252.1 10
720 1252.0 14
723 1251.95 14
731 1251.95 8
734 1252.0 8
737 1252.0 5
740 1251.85 14
744 1252 5
746 1252 5
748 1251.95 5
774 1251.7 10
780 1251.55 4
786 1251.55 4
802 1251.55 4
808 1251.55 4
816 1251.65 6
824 1251.5 6
827 1251.55 5
830 1251.5 8
}\whitestreaks
\pgfplotstableread{
x w v
22 1 62
33 1 62
36 2 62
41 1 62
43 3 62
52 4 62
58 5 68
67 2 62
71 1 62
87 2 62
97 1 62
100 1 62
103 1 62
108 1 68
122 5 62
153 1 62
158 1 62
163 1 62
168 1 62
171 1 62
176 2 68
182 2 62
186 3 62
198 1 62
215 1 68
232 1 62
247 1 62
254 1 62
256 1 62
259 1 62
271 1 62
278 2 62
287 4 62
292 2 62
295 7 62
303 4 62
308 4 62
315 2 62
318 1 62
320 2 62
324 3 62
329 1 62
338 1 152
339 1 85
340 1 75
341 2 68
343 7 62
351 12 63
364 1 62
368 1 60
372 1 62
376 3 66
379 7 62
387 1 62
389 1 62
391 2 62
394 1 60
397 2 62
401 1 62
403 1 62
405 1 62
407 2 64
409 1 78
410 1 80
411 2 78
413 1 85
414 6 64
420 1 62
421 1 85
422 2 62
424 1 990
425 1 135
426 1 125
427 1 100
428 8 64
436 3 72
439 1 68
440 10 68
451 5 66
457 12 70
469 1 127
470 4 75
475 1 77
476 14 66
491 1 66
494 8 68
503 10 66
514 5 72
519 1 82
520 4 70
525 4 72
530 3 70
534 4 66
538 1 98
539 1 72
540 5 68
547 2 66
550 2 68
554 1 66
557 5 70
563 6 70
570 1 66
573 1 87
575 1 66
576 1 114
577 1 66
579 12 68
592 4 68
597 4 68
601 8 70
609 1 93
610 3 68
614 9 70
624 8 70
632 1 117
633 4 70
638 1 66
641 1 70
644 1 70
647 1 66
649 1 66
651 1 87
653 1 66
655 1 87
658 1 66
662 1 66
664 1 70
668 1 66
672 6 66
679 1 77
683 1 66
684 3 66
688 1 66
690 3 70
694 2 66
696 1 70
698 2 70
701 1 70
703 2 70
706 1 66
708 1 66
710 2 66
714 2 70
716 1 66
718 1 70
720 3 70
724 1 70
726 3 70
731 2 66
734 6 70
745 1 62
748 1 62
752 1 62
754 1 62
761 1 62
772 3 62
778 1 62
785 1 62
797 1 62
800 1 62
819 3 62
823 1 62
826 1 62
829 1 62
832 1 62
}\volruns
\begin{document}
\begin{tikzpicture}
\path[use as bounding box] (0,0) rectangle (898pt,928pt);
\fill[bg] (0,0) rectangle (898pt,928pt);
\pgfplotsset{panel/.style={
  scale only axis, anchor=south west, axis background/.style={fill=black},
  axis line style={white,line width=1pt},
  xmin=20.5, xmax=838.5,
  xtick={78.5,198.5,318.5,438.5,558.5,678.5,798.5},
  tick align=outside,
  grid=major,
  x grid style={gridc,line width=0.8pt,dash pattern=on 4pt off 3pt},
  y grid style={gridc,line width=0.8pt,dash pattern=on 3pt off 1pt},
  tick label style={text=white,font=\fontsize{10.5}{12}\selectfont},
  ytick pos=right, yticklabel pos=right,
  y tick label style={anchor=west,inner sep=0pt,xshift=-1.5pt},
}}
\begin{axis}[panel, at={(20.5pt,260pt)}, width=818pt, height=647.5pt,
  ymin=1243.915, ymax=1256.113,
  ytick={1244,1246,1248,1250,1252,1254,1256},
  yticklabels={-1244.00,-1246.00,-1248.00,-1250.00,-1252.00,-1254.00,-1256.00},
  y tick style={draw=none}, major tick length=4pt,
  xtick pos=bottom,
  x tick style={white,line width=1pt,yshift=-3pt},
  xticklabels={03:02:00,03:04:00,03:06:00,03:08:00,03:10:00,03:12:00,03:14:00},
  x tick label style={inner sep=0pt,yshift=-6.5pt},
  colormap name=depth, point meta min=0, point meta max=11]
\addplot[scatter, only marks, mark=heatrun, point meta=explicit,
  visualization depends on={\thisrow{w}\as\runw}]
  table[x=x,y=y,meta=c]{\heatruns};
\addplot[scatter, only marks, mark=streak,
  scatter/use mapped color={draw=white,fill=white},
  visualization depends on={\thisrow{h}\as\runh}]
  table[x=x,y=y]{\whitestreaks};
\end{axis}
\begin{axis}[panel, at={(20.5pt,12.5pt)}, width=818pt, height=214.5pt,
  ymin=-3.4, ymax=1030,
  ytick={200,400,600,800,1000},
  yticklabels={-200,-400,-600,-800,-1000},
  y tick style={draw=none}, major tick length=3pt,
  y tick label style={xshift=-0.5pt},
  xtick pos=top, xticklabels={},
  x tick style={white,line width=1pt,yshift=8pt}]
\addplot[scatter, only marks, mark=volbar,
  scatter/use mapped color={draw=white,fill=white},
  visualization depends on={\thisrow{w}\as\runw},
  visualization depends on={0.2075*\thisrow{v}\as\runh}]
  table[x=x,y=v]{\volruns};
\end{axis}
\fill[black] (833.7pt,261pt) rectangle (838pt,907pt);
\fill[black] (833.7pt,13pt) rectangle (838pt,226.5pt);
\node[anchor=west,inner sep=0pt,text=white,font=\fontsize{10.5}{12}\selectfont] at (19.5pt,916pt) {GC.Q13};
\node[anchor=west,inner sep=0pt,text=white,font=\fontsize{10.5}{12}\selectfont] at (78.5pt,916pt) {Market Date: 07/10/2013};
\node[anchor=west,inner sep=0pt,text=nanexc,font=\fontsize{18}{18}\selectfont\itshape,xscale=1.24] at (25pt,890.5pt) {N\hspace{5pt}A\hspace{5pt}N\hspace{5pt}E\hspace{5pt}X};
\node[align=center,inner sep=0pt,text=white,font=\fontsize{10.5}{11.15}\selectfont] at (9.5pt,575.5pt) {D\\e\\p\\t\\h\\~\\H\\e\\a\\t\\~\\M\\a\\p};
\node[align=center,inner sep=0pt,text=white,font=\fontsize{10.5}{11.15}\selectfont] at (9.5pt,112pt) {V\\o\\l\\u\\m\\e};
\end{tikzpicture}
\end{document}
